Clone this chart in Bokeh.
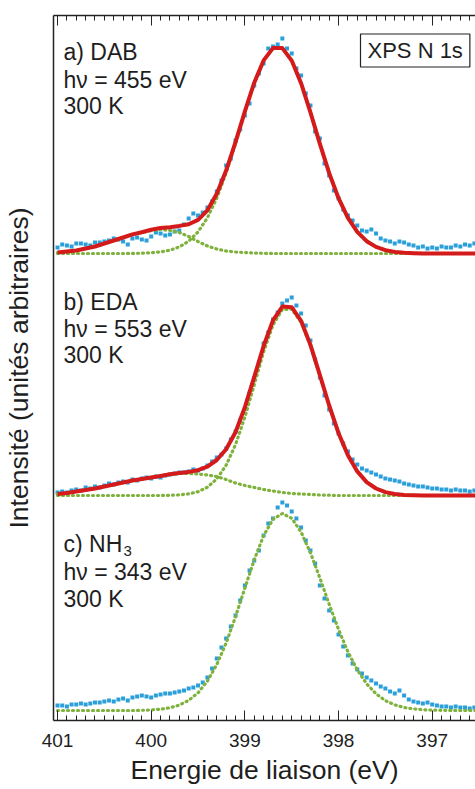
import numpy as np
from bokeh.plotting import figure
from bokeh.models import Range1d, LinearAxis, FixedTicker, Label, ColumnDataSource
from bokeh.embed import file_html
from bokeh.resources import INLINE

# ---------------- data (intensities, arbitrary units) ----------------
# measured points every 0.05 eV from 401.00 down to 396.55 eV
energy_data = 401.0 - 0.05 * np.arange(90)
# fitted curves every 0.1 eV from 401.0 down to 396.5 eV
energy_fit = 401.0 - 0.1 * np.arange(46)

dab_data = [6, 9, 8, 7, 10, 10, 9, 8, 11, 11,
            12, 13, 15, 14, 12, 9, 15, 16, 14, 13,
            17, 21, 20, 18, 19, 22, 23, 29, 35, 40,
            38, 41, 46, 52, 62, 73, 88, 95, 113, 124,
            138, 150, 168, 180, 190, 205, 207, 209, 215, 205,
            200, 185, 178, 160, 148, 122, 115, 90, 78, 63,
            55, 44, 38, 33, 28, 23, 22, 24, 20, 15,
            13, 12, 10, 12, 11, 9, 8, 6, 7, 5,
            6, 5, 7, 6, 6, 8, 7, 9, 8, 10]
dab_fit = [1, 2, 3, 5, 7, 10, 13, 16, 19.1, 21.3,
           23.7, 25.6, 26.3, 27.6, 29.3, 33.6, 43.2, 59.8, 82.9, 111.4,
           142.2, 170.8, 193.1, 205.4, 205.4, 192.9, 170.3, 141.2, 109.9, 80.4,
           55.3, 35.7, 21.6, 12.3, 6.6, 3.3, 1.6, 0.7, 0.3, 0.1,
           0, 0, 0, 0, 0, 0]
dab_comp1 = [1, 2, 3, 5, 7, 10, 13, 16, 19, 21,
             23, 24, 23, 21, 17, 12, 7.5, 4.5, 2.5, 1.5,
             1, 0.5, 0.2, 0, 0, 0, 0, 0, 0, 0,
             0, 0, 0, 0, 0, 0, 0, 0, 0, 0,
             0, 0, 0, 0, 0, 0]
dab_comp2 = [0, 0, 0, 0, 0, 0, 0, 0, 0.1, 0.3,
             0.7, 1.6, 3.3, 6.6, 12.3, 21.6, 35.7, 55.3, 80.4, 109.9,
             141.2, 170.3, 192.9, 205.4, 205.4, 192.9, 170.3, 141.2, 109.9, 80.4,
             55.3, 35.7, 21.6, 12.3, 6.6, 3.3, 1.6, 0.7, 0.3, 0.1,
             0, 0, 0, 0, 0, 0]

eda_data = [3, 4, 3, 5, 6, 5, 8, 7, 9, 8,
            10, 12, 11, 13, 14, 13, 16, 15, 17, 18,
            17, 19, 18, 20, 21, 22, 23, 23, 24, 26,
            25, 27, 30, 34, 38, 41, 47, 56, 64, 75,
            87, 102, 117, 133, 152, 163, 176, 183, 192, 195,
            198, 190, 182, 170, 155, 136, 118, 100, 86, 72,
            62, 52, 44, 36, 31, 27, 25, 23, 21, 19,
            17, 16, 15, 14, 12, 11, 10, 9, 9, 8,
            7, 7, 6, 6, 5, 6, 5, 5, 4, 5]
eda_fit = [1.5, 2.5, 4, 5.5, 7, 9, 11, 13, 15, 16.5,
           18, 19.5, 21.2, 22.6, 23.6, 25.3, 28.8, 35.5, 46.3, 63.3,
           88.3, 118.7, 149.5, 175.1, 189, 188.3, 174.7, 150.6, 120.7, 90,
           62.3, 40.2, 24.1, 13.4, 7.0, 3.4, 1.5, 0.6, 0.2, 0,
           0, 0, 0, 0, 0, 0]
eda_comp1 = [1.5, 2.5, 4, 5.5, 7, 9, 11, 13, 15, 16.5,
             18, 19.5, 21, 22, 22, 21.5, 20.5, 19, 16, 12.5,
             10, 8, 6, 4.5, 3, 2, 1.5, 1, 0.5, 0.3,
             0, 0, 0, 0, 0, 0, 0, 0, 0, 0,
             0, 0, 0, 0, 0, 0]
eda_comp2 = [0, 0, 0, 0, 0, 0, 0, 0, 0, 0,
             0, 0, 0.2, 0.6, 1.6, 3.8, 8.3, 16.5, 30.3, 50.8,
             78.3, 110.7, 143.5, 170.6, 186, 186.3, 173.2, 149.6, 120.2, 89.7,
             62.3, 40.2, 24.1, 13.4, 7.0, 3.4, 1.5, 0.6, 0.2, 0,
             0, 0, 0, 0, 0, 0]

nh3_data = [5, 5, 4, 6, 6, 7, 6, 7, 8, 8,
            9, 10, 9, 11, 12, 10, 13, 14, 15, 14,
            13, 15, 16, 17, 17, 18, 19, 20, 22, 23,
            25, 28, 33, 42, 52, 63, 72, 84, 95, 110,
            125, 140, 150, 160, 175, 187, 192, 203, 208, 205,
            199, 192, 183, 170, 160, 147, 125, 112, 100, 90,
            76, 64, 55, 47, 41, 37, 33, 30, 27, 24,
            22, 19, 17, 20, 15, 11, 9, 8, 7, 8,
            6, 5, 4, 4, 3, 4, 3, 3, 2, 3]
nh3_fit = [0, 0, 0, 0, 0, 0, 0, 0, 0, 0.2,
           0.6, 1.3, 2.7, 5.4, 10.1, 17.7, 29.4, 45.9, 67.5, 93.7,
           122.4, 150.7, 174.9, 191.2, 197, 192.2, 178.5, 157.7, 132.7, 106.3,
           81.0, 58.7, 40.6, 26.7, 16.7, 9.9, 5.6, 3.0, 1.6, 0.8,
           0.4, 0.2, 0.1, 0, 0, 0]

# vertical offsets of the stacked spectra
offset_dab = 467
offset_eda = 225
offset_nh3 = 10

tick_values = [401, 400, 399, 398, 397]

BLUE = "#2b9fda"
RED = "#d41a1a"
GREEN = "#7fb23c"
FONT = "Liberation Sans"
TXT = "#1e1e1e"
AX = "#222222"

p = figure(width=475, height=789,
           x_range=Range1d(401.043, 396.538), y_range=Range1d(0, 705),
           output_backend="svg", toolbar_location=None,
           x_axis_location=None, y_axis_location=None,
           min_border_left=52, min_border_right=0, min_border_top=15, min_border_bottom=69)
p.outline_line_color = None
p.xgrid.grid_line_color = None
p.ygrid.grid_line_color = None
p.background_fill_color = "white"
p.border_fill_color = "white"

def add_spectrum(data, offset, fit=None, comps=()):
    src = ColumnDataSource(dict(x=energy_data, y=np.array(data, float) + offset))
    p.scatter("x", "y", source=src, marker="square", size=4, color=BLUE, line_width=0)
    for c in comps:
        cs = ColumnDataSource(dict(x=energy_fit, y=np.array(c, float) + offset))
        p.line("x", "y", source=cs, line_color=GREEN, line_width=3.2,
               line_dash="1 4", line_cap="round")
    if fit is not None:
        fs = ColumnDataSource(dict(x=energy_fit, y=np.array(fit, float) + offset))
        p.line("x", "y", source=fs, line_color=RED, line_width=4, line_join="round")

add_spectrum(dab_data, offset_dab, dab_fit, (dab_comp1, dab_comp2))
add_spectrum(eda_data, offset_eda, eda_fit, (eda_comp1, eda_comp2))
add_spectrum(nh3_data, offset_nh3, None, (nh3_fit,))

ticker = FixedTicker(ticks=tick_values,
                     minor_ticks=[round(401 - 0.1 * i, 1) for i in range(46)])

def style_ticks(ax):
    ax.major_tick_in = 10
    ax.major_tick_out = 0
    ax.minor_tick_in = 5
    ax.minor_tick_out = 0
    ax.axis_line_width = 1.5
    ax.axis_line_color = AX
    ax.major_tick_line_color = AX
    ax.minor_tick_line_color = AX

xb = LinearAxis(ticker=ticker, axis_label="Energie de liaison (eV)")
style_ticks(xb)
xb.major_label_text_font = FONT
xb.major_label_text_font_size = "19px"
xb.major_label_text_color = TXT
xb.major_label_standoff = 13
xb.axis_label_text_font = FONT
xb.axis_label_text_font_size = "26.5px"
xb.axis_label_text_font_style = "normal"
xb.axis_label_text_color = TXT
xb.axis_label_standoff = 5
p.add_layout(xb, "below")

xt = LinearAxis(ticker=ticker)
style_ticks(xt)
xt.major_label_text_font_size = "1px"
xt.major_label_text_color = None
xt.major_label_standoff = 0
p.add_layout(xt, "above")

yl = LinearAxis(ticker=FixedTicker(ticks=[]), axis_label="Intensité (unités arbitraires)")
yl.major_tick_in = 0
yl.major_tick_out = 0
yl.minor_tick_in = 0
yl.minor_tick_out = 0
yl.major_label_text_font_size = "1px"
yl.major_label_text_color = None
yl.major_label_standoff = 0
yl.axis_line_width = 1.5
yl.axis_line_color = AX
yl.axis_label_text_font = FONT
yl.axis_label_text_font_size = "26.5px"
yl.axis_label_text_font_style = "normal"
yl.axis_label_text_color = TXT
yl.axis_label_standoff = 20
p.add_layout(yl, "left")

x0 = 401.043
def note(text, y, dx=10, size="23px"):
    p.add_layout(Label(x=x0, y=y, x_offset=dx, text=text, text_font=FONT,
                       text_font_size=size, text_color=TXT, text_baseline="middle"))

note("a) DAB", 669)
note("h\u03bd = 455 eV", 641)
note("300 K", 615)
note("b) EDA", 419)
note("h\u03bd = 553 eV", 392)
note("300 K", 366)
note("c) NH", 177)
note("3", 170, dx=70, size="15px")
note("h\u03bd = 343 eV", 149)
note("300 K", 122)

p.add_layout(Label(x=x0, y=670, x_offset=307, text="XPS N 1s", text_font=FONT,
                   text_font_size="22px", text_color=TXT, text_baseline="middle",
                   border_line_color=AX, border_line_width=1.2,
                   background_fill_color="white",
                   padding=dict(left=7, right=7, top=4, bottom=4)))

open("out.html", "w").write(file_html(p, INLINE))
